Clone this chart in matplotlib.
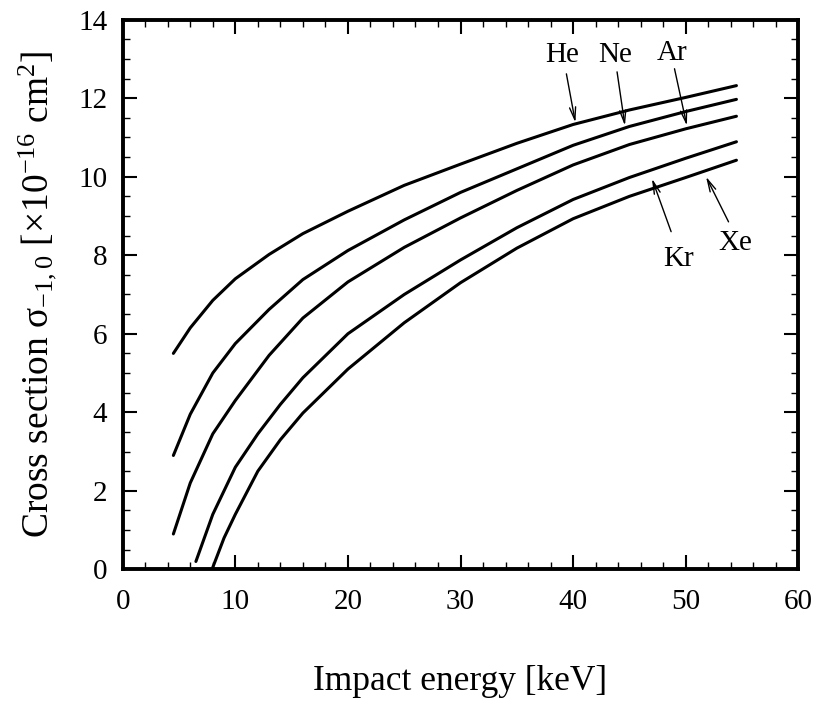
import numpy as np
import matplotlib
matplotlib.use("Agg")
import matplotlib.pyplot as plt
from matplotlib.ticker import MultipleLocator

plt.rcParams["font.family"] = "Liberation Serif"
plt.rcParams["mathtext.fontset"] = "custom"
plt.rcParams["mathtext.rm"] = "Liberation Serif"
plt.rcParams["mathtext.it"] = "Liberation Serif:italic"

# Cross sections vs impact energy for each target gas
he_energy = [4.5, 6, 8, 10, 13, 16, 20, 25, 30, 35, 40, 45, 50, 54.5]
he_sigma = [5.5, 6.15, 6.85, 7.4, 8.02, 8.55, 9.12, 9.78, 10.32, 10.85, 11.33, 11.7, 12.02, 12.32]

ne_energy = [4.5, 6, 8, 10, 13, 16, 20, 25, 30, 35, 40, 45, 50, 54.5]
ne_sigma = [2.9, 3.95, 5.0, 5.75, 6.62, 7.38, 8.12, 8.9, 9.6, 10.2, 10.8, 11.28, 11.66, 11.97]

ar_energy = [4.5, 6, 8, 10, 13, 16, 20, 25, 30, 35, 40, 45, 50, 54.5]
ar_sigma = [0.9, 2.2, 3.45, 4.3, 5.45, 6.4, 7.32, 8.2, 8.95, 9.65, 10.3, 10.82, 11.22, 11.54]

kr_energy = [6.5, 8, 10, 12, 14, 16, 20, 25, 30, 35, 40, 45, 50, 54.5]
kr_sigma = [0.2, 1.4, 2.6, 3.45, 4.2, 4.88, 6.0, 7.0, 7.88, 8.7, 9.42, 9.98, 10.47, 10.89]

xe_energy = [8, 9, 10, 12, 14, 16, 20, 25, 30, 35, 40, 45, 50, 54.5]
xe_sigma = [0.05, 0.8, 1.4, 2.5, 3.3, 3.98, 5.1, 6.28, 7.3, 8.18, 8.93, 9.5, 9.98, 10.42]

# label text, text position, arrow tip
labels = ["He", "Ne", "Ar", "Kr", "Xe"]
label_pos = [(39.0, 13.1), (43.7, 13.1), (48.8, 13.15), (49.4, 7.9), (54.4, 8.3)]
arrow_tip = [(40.2, 11.38), (44.6, 11.3), (50.1, 11.3), (47.0, 9.95), (51.8, 10.0)]
arrow_start = [(39.4, 12.62), (43.9, 12.67), (49.0, 12.75), (48.7, 8.6), (53.8, 8.85)]

fig = plt.figure(figsize=(8.18, 7.02), dpi=100)
ax = fig.add_axes([0.150, 0.189, 0.826, 0.783])

for e, s in [(he_energy, he_sigma), (ne_energy, ne_sigma), (ar_energy, ar_sigma),
             (kr_energy, kr_sigma), (xe_energy, xe_sigma)]:
    ax.plot(e, s, color="black", lw=2.2, solid_capstyle="round")

for name, tpos, tip, start in zip(labels, label_pos, arrow_tip, arrow_start):
    ax.text(tpos[0], tpos[1], name, fontsize=21, ha="center", va="center")
    ax.annotate("", xy=tip, xytext=start,
                arrowprops=dict(arrowstyle="->,head_length=0.9,head_width=0.22",
                                lw=1.0, color="black", shrinkA=0, shrinkB=0))

ax.set_xlim(0, 60)
ax.set_ylim(0, 14)
ax.xaxis.set_major_locator(MultipleLocator(10))
ax.xaxis.set_minor_locator(MultipleLocator(2))
ax.yaxis.set_major_locator(MultipleLocator(2))
ax.yaxis.set_minor_locator(MultipleLocator(0.5))
ax.tick_params(which="both", direction="in", top=True, right=True, width=1.5,
               labelsize=21)
ax.tick_params(axis="x", pad=14)
ax.tick_params(axis="y", pad=11)
ax.tick_params(which="major", length=10)
ax.tick_params(which="minor", length=5, width=1.0)
for sp in ax.spines.values():
    sp.set_linewidth(2.8)

ax.set_xlabel("Impact energy [keV]", fontsize=25.5, labelpad=36)
ax.set_ylabel(r"Cross section σ$_{\mathrm{-1,0}}$ [×10$^{\mathrm{-16}}$ cm$^{\mathrm{2}}$]",
              fontsize=27, labelpad=14)

fig.savefig("out.png", dpi=100)
